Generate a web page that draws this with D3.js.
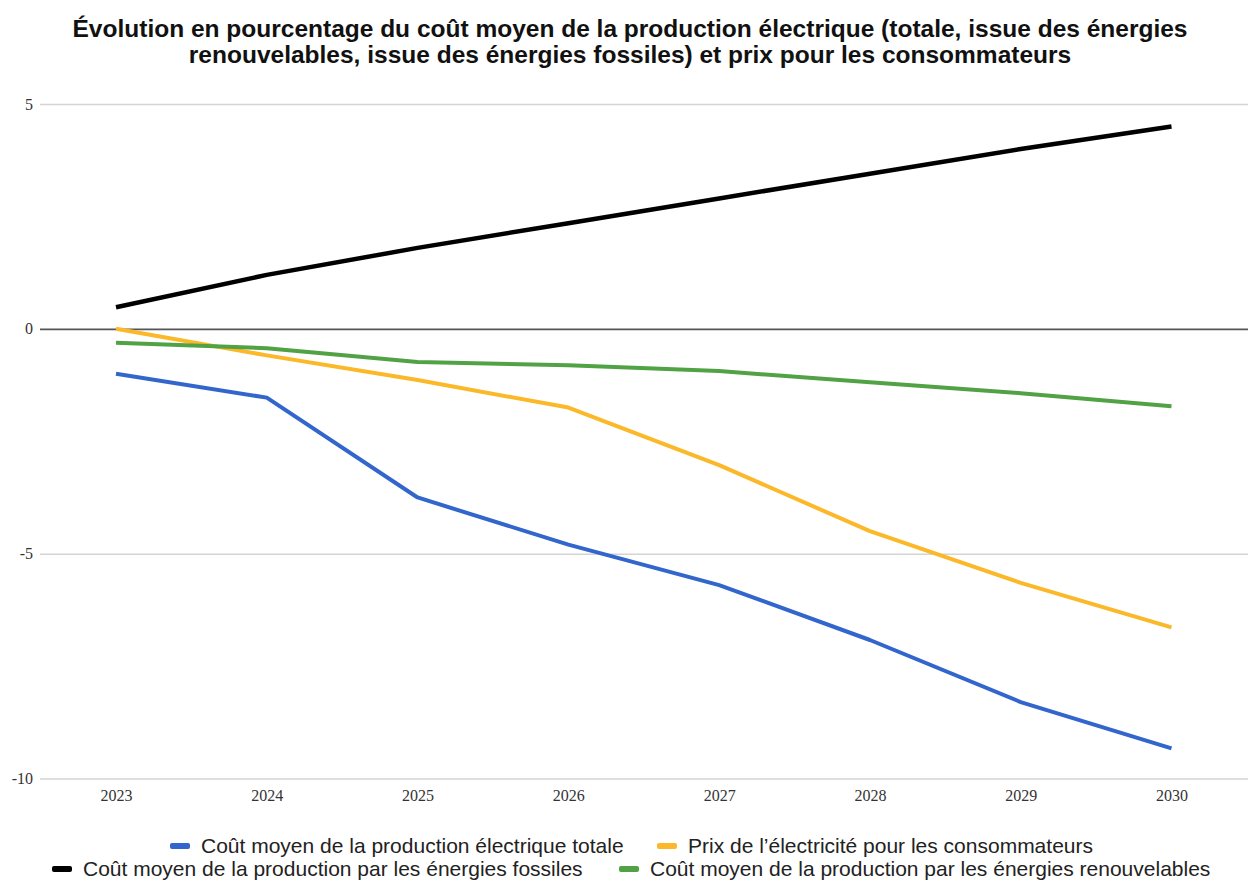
<!DOCTYPE html>
<html>
<head>
<meta charset="utf-8">
<script src="https://cdn.jsdelivr.net/npm/d3@7"></script>
<style>
  body { margin: 0; background: #fff; }
</style>
</head>
<body>
<svg width="1250" height="881"></svg>
<script>
let years = [2023, 2024, 2025, 2026, 2027, 2028, 2029, 2030];
let coutTotal = [-1.0, -1.53, -3.75, -4.8, -5.7, -6.92, -8.3, -9.33];
let prixConso = [0, -0.59, -1.14, -1.75, -3.03, -4.5, -5.65, -6.64];
let coutFossiles = [0.48, 1.2, 1.8, 2.35, 2.9, 3.45, 4.0, 4.5];
let coutRenouv = [-0.31, -0.43, -0.74, -0.81, -0.94, -1.19, -1.43, -1.72];
let yTicks = [-10, -5, 0, 5];

let series = [
    { name: 'Coût moyen de la production électrique totale', values: coutTotal, color: '#3366cc' },
    { name: 'Prix de l\u2019électricité pour les consommateurs', values: prixConso, color: '#fbb829' },
    { name: 'Coût moyen de la production par les énergies fossiles', values: coutFossiles, color: '#000000' },
    { name: 'Coût moyen de la production par les énergies renouvelables', values: coutRenouv, color: '#51a244' }
];

let svg = d3.select('svg');
let plotLeft = 40, plotRight = 1248, plotTop = 104, plotBottom = 778.5;

let xScale = d3.scalePoint()
    .domain(years)
    .range([116, 1171.5]);

let yScale = d3.scaleLinear()
    .domain([-10, 5])
    .range([plotBottom, plotTop]);

// title
svg.append('text')
    .attr('y', 37)
    .attr('text-anchor', 'middle')
    .attr('font-family', 'Liberation Sans, Arial, sans-serif')
    .attr('font-weight', 'bold')
    .attr('font-size', 24.5)
    .attr('fill', '#111')
    .selectAll('tspan')
    .data(['Évolution en pourcentage du coût moyen de la production électrique (totale, issue des énergies',
           'renouvelables, issue des énergies fossiles) et prix pour les consommateurs'])
    .enter()
    .append('tspan')
    .attr('x', 630)
    .attr('dy', (d, i) => i === 0 ? 0 : 26)
    .text(d => d);

// y grid + labels
let yAxis = d3.axisLeft(yScale)
    .tickValues(yTicks)
    .tickSize(-(plotRight - plotLeft))
    .tickPadding(7)
    .tickFormat(d => String(d));

let gy = svg.append('g')
    .attr('transform', 'translate(' + plotLeft + ',0)')
    .call(yAxis);
gy.select('.domain').remove();
gy.selectAll('line')
    .attr('stroke', d => d === 0 ? '#555' : '#d4d4d4')
    .attr('stroke-width', d => d === 0 ? 1.8 : 1.5);
gy.selectAll('text')
    .attr('font-family', 'Liberation Serif, Times New Roman, serif')
    .attr('font-size', 16)
    .attr('fill', '#333');

// x labels
let xAxis = d3.axisBottom(xScale)
    .tickSize(0)
    .tickPadding(11);
let gx = svg.append('g')
    .attr('transform', 'translate(0,' + plotBottom + ')')
    .call(xAxis);
gx.select('.domain').remove();
gx.selectAll('text')
    .attr('font-family', 'Liberation Serif, Times New Roman, serif')
    .attr('font-size', 16)
    .attr('fill', '#333');

// lines
let line = d3.line()
    .x((d, i) => xScale(years[i]))
    .y(d => yScale(d));

svg.selectAll('.serie')
    .data(series)
    .enter()
    .append('path')
    .attr('class', 'serie')
    .attr('d', d => line(d.values))
    .attr('fill', 'none')
    .attr('stroke', d => d.color)
    .attr('stroke-width', d => d.color === '#000000' ? 4.5 : 4)
    .attr('stroke-linejoin', 'round');

// legend
let legendPos = [
    { x: 170, y: 853 },
    { x: 657, y: 853 },
    { x: 52, y: 876 },
    { x: 619, y: 876 }
];

let lg = svg.selectAll('.leg')
    .data(series)
    .enter()
    .append('g')
    .attr('class', 'leg')
    .attr('transform', (d, i) => 'translate(' + legendPos[i].x + ',' + legendPos[i].y + ')');

lg.append('rect')
    .attr('x', 0)
    .attr('y', -10)
    .attr('width', 20)
    .attr('height', 6)
    .attr('rx', 2)
    .attr('fill', d => d.color);

lg.append('text')
    .attr('x', 31)
    .attr('y', 0)
    .attr('font-family', 'Liberation Sans, Arial, sans-serif')
    .attr('font-size', 21)
    .attr('fill', '#222')
    .text(d => d.name);
</script>
</body>
</html>
